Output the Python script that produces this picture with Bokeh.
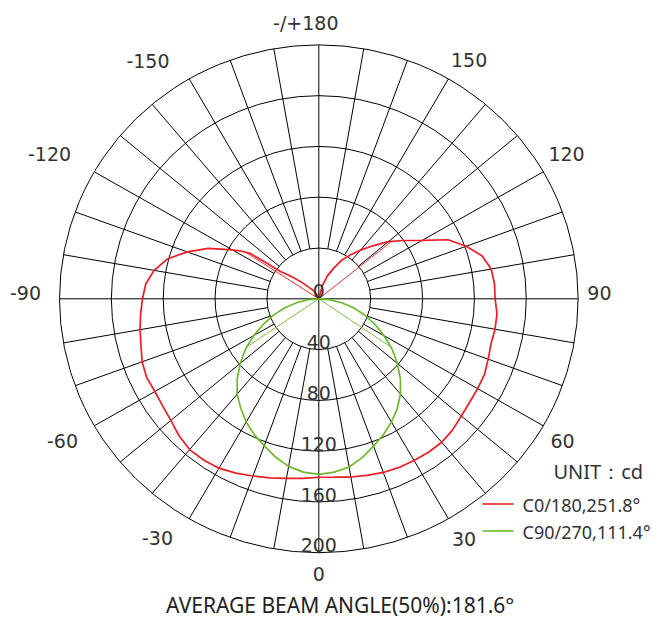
import numpy as np
from bokeh.plotting import figure
from bokeh.models import Range1d
from bokeh.core.properties import value
from bokeh.embed import file_html
from bokeh.resources import INLINE

# ---------------- data ----------------
ring_values = [40, 80, 120, 160, 200]
ring_labels = ["0", "40", "80", "120", "160", "200"]
ring_label_values = [0, 40, 80, 120, 160, 200]

angle_ticks = [0, 30, 60, 90, 120, 150, 180, -150, -120, -90, -60, -30]
angle_tick_labels = ["0", "30", "60", "90", "120", "150", "-/+180",
                     "-150", "-120", "-90", "-60", "-30"]

# C0 half-plane (0 .. 180 deg, drawn on the right)
c0_deg = [0, 5, 10, 15, 20, 25, 30, 35, 40, 45, 50, 55, 60, 65, 70, 75, 80, 85,
          90, 95, 100, 105, 110, 115, 120, 125, 130, 135, 140, 145, 150, 155,
          160, 165, 170, 175, 180]
c0_cd = [140.5, 141, 142.5, 144, 145.5, 146.5, 147, 147.5, 147.5, 146, 143.5,
         142, 141.5, 141, 139, 137.5, 138, 138, 136, 136, 135, 130.5, 121, 110,
         92, 80, 70, 59, 50, 42, 35, 26, 19, 11, 0, 0, 0]

# C180 half-plane (0 .. 180 deg, drawn on the left)
c180_deg = [0, 5, 10, 15, 20, 25, 30, 35, 40, 45, 50, 55, 60, 65, 70, 75, 80, 85,
            90, 95, 100, 105, 110, 115, 120, 122, 124, 125, 126, 128, 130, 135,
            140, 145, 150, 155, 160, 170, 180]
c180_cd = [140.5, 142, 143.5, 146, 148.5, 151.5, 154, 155, 155, 152.5, 149, 147,
           146, 146.5, 145, 142, 140, 138, 136, 134, 129, 121, 108, 94, 77, 71,
           64, 48, 37, 31, 27, 18, 11.5, 9, 6, 3, 0, 0, 0]

# C90/270 plane (-90 .. 90 deg)
c90_deg = [-90, -85, -80, -75, -70, -65, -60, -55, -50, -45, -40, -35, -30, -25,
           -20, -15, -10, -5, 0, 5, 10, 15, 20, 25, 30, 35, 40, 45, 50, 55, 60,
           65, 70, 75, 80, 85, 90]
c90_cd = [0, 8, 17, 27, 37, 47, 58, 69, 79, 89, 98, 105, 112, 118, 123, 129, 134,
          137, 138.3, 137, 134.5, 129.5, 123.5, 118, 112, 105.5, 98, 89, 79, 69,
          58, 48, 38, 28, 18, 8, 0]

c0_beam_deg = [-123.0, 128.8]
c90_beam_deg = [-55.7, 55.7]

legend_names = ["C0/180,251.8°", "C90/270,111.4°"]
unit_text = "UNIT：cd"
title_text = "AVERAGE BEAM ANGLE(50%):181.6°"

# ---------------- styling / layout ----------------
RED = "#ec1c24"
GREEN = "#6cb92d"
TXT = "#333333"
SX, SY = 1.2965, 1.27          # px per cd, horizontal / vertical
W, H = 652, 618
CX, CY = 318.3, 298.3          # center in canvas px
LABEL_R = 218
RING_LABEL_LIFT = 7.5          # px
# fine placement tweaks of the angle labels (px: right, down)
label_tweak = [(0, -2), (4, 0), (-1, 4), (-2, -6), (3, -6), (9, 1), (-13, 1),
               (-29.5, 1.5), (-24.5, -6), (-10.7, -6), (-11.5, 4), (-20, -1)]


def polar(deg, r):
    t = np.radians(np.asarray(deg, dtype=float))
    r = np.asarray(r, dtype=float)
    return r * np.sin(t), -r * np.cos(t)


p = figure(width=W, height=H, output_backend="svg", toolbar_location=None,
           x_range=Range1d(-CX / SX, (W - CX) / SX),
           y_range=Range1d(-(H - CY) / SY, CY / SY),
           min_border=0, outline_line_color=None)
p.axis.visible = False
p.grid.visible = False
p.background_fill_color = "white"

# rings
p.ellipse(x=[0] * len(ring_values), y=[0] * len(ring_values),
          width=[2 * v for v in ring_values], height=[2 * v for v in ring_values],
          fill_color=None, line_color="black", line_width=1)

# spokes
r_in, r_out = ring_values[0], ring_values[-1]
spokes = [a for a in range(-170, 180, 10) if a not in (0, 90, -90)]
x0, y0 = polar(spokes, [r_in] * len(spokes))
x1, y1 = polar(spokes, [r_out] * len(spokes))
p.segment(x0=x0, y0=y0, x1=x1, y1=y1, line_color="black", line_width=1)
p.segment(x0=[-r_out, 0], y0=[0, -r_out], x1=[r_out, 0], y1=[0, r_out],
          line_color="black", line_width=1)

# curves
cdeg = [-a for a in reversed(c180_deg)] + c0_deg
ccd = list(reversed(c180_cd)) + c0_cd
xr, yr = polar(cdeg, ccd)
p.line(xr, yr, line_color=RED, line_width=1.7)
xg, yg = polar(c90_deg, c90_cd)
p.line(xg, yg, line_color=GREEN, line_width=1.7)

# beam-angle lines
rb = np.interp(c0_beam_deg, cdeg, ccd)
bx, by = polar(c0_beam_deg, rb)
p.segment(x0=[0, 0], y0=[0, 0], x1=bx, y1=by, line_color=RED, line_width=0.9)
rg = np.interp(c90_beam_deg, c90_deg, c90_cd)
gx, gy = polar(c90_beam_deg, rg)
p.segment(x0=[0, 0], y0=[0, 0], x1=gx, y1=gy, line_color=GREEN, line_width=0.9)

# ring labels
p.text(x=[0] * len(ring_labels),
       y=[-v + RING_LABEL_LIFT / SY for v in ring_label_values], text=ring_labels,
       text_align="center", text_baseline="alphabetic",
       text_font=value("DejaVu Sans"), text_font_size="19px", text_color=TXT)

# angle labels
lx, ly = polar(angle_ticks, [LABEL_R] * len(angle_ticks))
lx = lx + np.array([t[0] for t in label_tweak]) / SX
ly = ly - np.array([t[1] for t in label_tweak]) / SY
p.text(x=lx, y=ly, text=angle_tick_labels, text_align="center",
       text_baseline="middle", text_font=value("DejaVu Sans"),
       text_font_size="19px", text_color=TXT)

# legend
def px2d(px, py):
    return (px - CX) / SX, (CY - py) / SY

ux, uy = px2d(553, 471)
p.text(x=[ux], y=[uy], text=[unit_text], text_align="left", text_baseline="middle",
       text_font=value("Noto Sans"), text_font_size="20px", text_color=TXT)
for i, (name, col) in enumerate(zip(legend_names, [RED, GREEN])):
    lpy = 503.5 + 27 * i
    ax0, ay = px2d(482, lpy)
    ax1, _ = px2d(513, lpy)
    p.segment(x0=[ax0], y0=[ay], x1=[ax1], y1=[ay], line_color=col, line_width=1.6)
    tx, ty = px2d(522, lpy + 1)
    p.text(x=[tx], y=[ty], text=[name], text_align="left", text_baseline="middle",
           text_font=value("Noto Sans"), text_font_size="18px", text_color=TXT)

# bottom title
tx, ty = px2d(339.7, 604)
p.text(x=[tx], y=[ty], text=[title_text], text_align="center", text_baseline="middle",
       text_font=value("Noto Sans"), text_font_size="21px", text_color="#222222")

open("out.html", "w").write(file_html(p, INLINE))
